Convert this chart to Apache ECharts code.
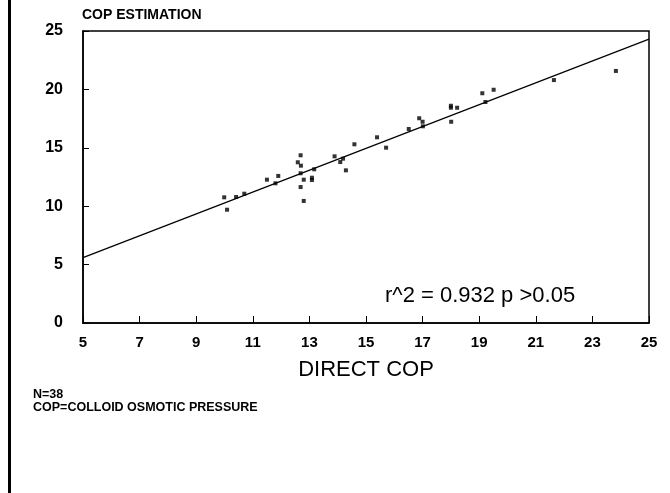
<!DOCTYPE html>
<html>
<head>
<meta charset="utf-8">
<script src="https://cdn.jsdelivr.net/npm/echarts@6/dist/echarts.min.js"></script>
<style>
html,body{margin:0;padding:0;background:#fff;}
#c{width:670px;height:493px;}
</style>
</head>
<body>
<div id="c"></div>
<script>
// Direct COP (x) vs COP estimation (y)
const directCOP = [9.99,10.09,10.41,10.70,11.50,11.80,11.90,12.69,12.59,12.70,12.69,12.80,12.69,12.80,13.09,13.09,13.17,13.89,14.09,14.19,14.29,14.59,15.39,15.71,16.51,16.88,17.00,17.01,18.00,18.00,18.22,18.01,19.11,19.22,19.51,21.64,23.83];
const estimatedCOP = [10.76,9.70,10.79,11.07,12.27,11.96,12.59,14.36,13.76,13.47,12.82,12.27,11.64,10.45,12.44,12.24,13.16,14.27,13.78,14.07,13.07,15.30,15.90,15.01,16.61,17.53,17.23,16.84,18.60,18.43,18.43,17.23,19.67,18.92,19.97,20.80,21.58];
// regression line end points
const fitX = [5, 25];
const fitY = [5.6, 24.3];
const xTicks = [5,7,9,11,13,15,17,19,21,23,25];
const yTicks = [0,5,10,15,20,25];

const points = directCOP.map((x,i)=>[x, estimatedCOP[i]]);
const fitLine = fitX.map((x,i)=>[x, fitY[i]]);

const chart = echarts.init(document.getElementById('c'), null, {renderer:'canvas'});
const font = '"Liberation Sans", Arial, Helvetica, sans-serif';
chart.setOption({
  animation:false,
  backgroundColor:'#fff',
  textStyle:{fontFamily:font},
  title:{
    text:'COP ESTIMATION', left:77, top:3,
    textStyle:{fontFamily:font, fontSize:14, fontWeight:'bold', color:'#000'}
  },
  grid:{left:83, right:21, top:31, bottom:170, show:true, borderColor:'#000', borderWidth:1.5, backgroundColor:'transparent'},
  xAxis:{
    type:'value', min:5, max:25,
    name:'DIRECT COP', nameLocation:'middle', nameGap:36,
    nameTextStyle:{fontFamily:font, fontSize:22, color:'#000'},
    axisLine:{show:true, onZero:false, lineStyle:{color:'#000', width:1.5}},
    axisTick:{show:true, inside:true, length:7, customValues:xTicks, lineStyle:{color:'#000', width:1}},
    axisLabel:{customValues:xTicks, margin:12, fontFamily:font, fontSize:15, fontWeight:'bold', color:'#000'},
    splitLine:{show:false}
  },
  yAxis:{
    type:'value', min:0, max:25, interval:5,
    axisLine:{show:true, onZero:false, lineStyle:{color:'#000', width:1.5}},
    axisTick:{show:true, inside:true, length:6, lineStyle:{color:'#000', width:1}},
    axisLabel:{margin:20, fontFamily:font, fontSize:16, fontWeight:'bold', color:'#000'},
    splitLine:{show:false}
  },
  series:[
    {type:'line', data:fitLine, symbol:'none', lineStyle:{color:'#000', width:1.2}, z:2},
    {type:'scatter', data:points, symbol:'rect', symbolSize:4, itemStyle:{color:'#000'}, z:3}
  ],
  graphic:[
    {type:'rect', shape:{x:8, y:0, width:3, height:493}, style:{fill:'#000'}},
    {type:'text', left:385, top:285, style:{text:'r^2 = 0.932 p >0.05', font:'22px '+font, fill:'#000'}},
    {type:'text', left:33, top:388, style:{text:'N=38', font:'bold 12.5px '+font, fill:'#000'}},
    {type:'text', left:33, top:401, style:{text:'COP=COLLOID OSMOTIC PRESSURE', font:'bold 12.5px '+font, fill:'#000'}}
  ]
});
</script>
</body>
</html>
